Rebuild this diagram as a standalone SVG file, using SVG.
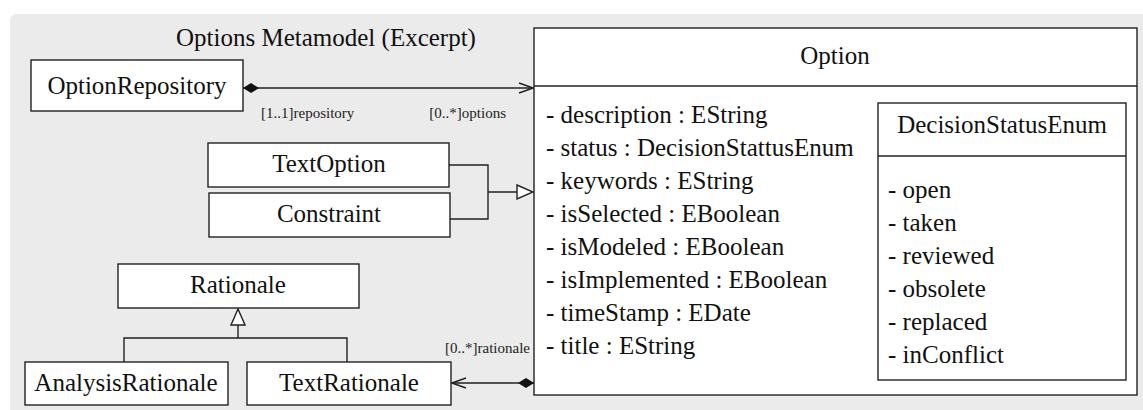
<svg xmlns="http://www.w3.org/2000/svg" width="1143" height="410" viewBox="0 0 1143 410">
<defs>
<style>
.box{fill:#fff;stroke:#222;stroke-width:1.4}
.ln{fill:none;stroke:#222;stroke-width:1.4}
.t{font-family:'Liberation Serif','DejaVu Serif',serif;font-size:25px;fill:#111}
.c{text-anchor:middle}
.s{font-family:'Liberation Serif','DejaVu Serif',serif;font-size:15px;fill:#222}
</style>
<marker id="open" viewBox="0 0 16 12" refX="15" refY="6" markerWidth="16" markerHeight="12" markerUnits="userSpaceOnUse" orient="auto">
<path d="M1,1 L15,6 L1,11" fill="none" stroke="#222" stroke-width="1.4"/>
</marker>
<marker id="dia" viewBox="0 0 18 12" refX="1" refY="6" markerWidth="18" markerHeight="12" markerUnits="userSpaceOnUse" orient="auto">
<path d="M1,6 L9,1 L17,6 L9,11 Z" fill="#111"/>
</marker>
<marker id="tri" viewBox="0 0 18 16" refX="17" refY="8" markerWidth="18" markerHeight="16" markerUnits="userSpaceOnUse" orient="auto">
<path d="M1,1 L17,8 L1,15 Z" fill="#fff" stroke="#222" stroke-width="1.4"/>
</marker>
</defs>
<rect x="10" y="14" width="1145" height="410" rx="6" fill="#ebebeb"/>
<g font-family="Liberation Serif, serif">
<text class="t c" x="326" y="46">Options Metamodel (Excerpt)</text>

<g id="Option">
<rect class="box" x="534" y="28" width="603" height="367"/>
<line class="ln" x1="534" y1="86" x2="1137" y2="86"/>
<text class="t c" x="835" y="64">Option</text>
<text class="t" x="546" y="123">- description : EString</text>
<text class="t" x="546" y="156">- status : DecisionStattusEnum</text>
<text class="t" x="546" y="189">- keywords : EString</text>
<text class="t" x="546" y="222">- isSelected : EBoolean</text>
<text class="t" x="546" y="255">- isModeled : EBoolean</text>
<text class="t" x="546" y="288">- isImplemented : EBoolean</text>
<text class="t" x="546" y="321">- timeStamp : EDate</text>
<text class="t" x="546" y="354">- title : EString</text>
</g>

<g id="DecisionStatusEnum">
<rect class="box" x="878" y="103" width="248" height="277"/>
<line class="ln" x1="878" y1="156" x2="1126" y2="156"/>
<text class="t c" x="1002" y="133">DecisionStatusEnum</text>
<text class="t" x="888" y="198">- open</text>
<text class="t" x="888" y="231">- taken</text>
<text class="t" x="888" y="264">- reviewed</text>
<text class="t" x="888" y="297">- obsolete</text>
<text class="t" x="888" y="330">- replaced</text>
<text class="t" x="888" y="363">- inConflict</text>
</g>

<g id="OptionRepository">
<rect class="box" x="31" y="60" width="212" height="51"/>
<text class="t c" x="137" y="94">OptionRepository</text>
</g>

<g id="TextOption">
<rect class="box" x="208" y="143" width="241" height="44"/>
<text class="t c" x="329" y="172">TextOption</text>
</g>

<g id="Constraint">
<rect class="box" x="209" y="193" width="241" height="44"/>
<text class="t c" x="329" y="222">Constraint</text>
</g>

<g id="Rationale">
<rect class="box" x="118" y="264" width="241" height="44"/>
<text class="t c" x="238" y="293">Rationale</text>
</g>

<g id="AnalysisRationale">
<rect class="box" x="25" y="362" width="203" height="43"/>
<text class="t c" x="126" y="391">AnalysisRationale</text>
</g>

<g id="TextRationale">
<rect class="box" x="247" y="362" width="204" height="43"/>
<text class="t c" x="349" y="391">TextRationale</text>
</g>

<g id="connectors">
<line class="ln" x1="243" y1="88" x2="533" y2="88" marker-start="url(#dia)" marker-end="url(#open)"/>
<text class="s" x="261" y="118">[1..1]repository</text>
<text class="s" x="506" y="118" text-anchor="end">[0..*]options</text>

<polyline class="ln" points="449,165 488,165 488,219 450,219"/>
<line class="ln" x1="488" y1="192" x2="533" y2="192" marker-end="url(#tri)"/>

<line class="ln" x1="238" y1="338" x2="238" y2="309" marker-end="url(#tri)"/>
<polyline class="ln" points="124,362 124,338 347,338 347,362"/>

<line class="ln" x1="534" y1="383" x2="452" y2="383" marker-start="url(#dia)" marker-end="url(#open)"/>
<text class="s" x="530" y="353" text-anchor="end">[0..*]rationale</text>
</g>
</g>
</svg>
